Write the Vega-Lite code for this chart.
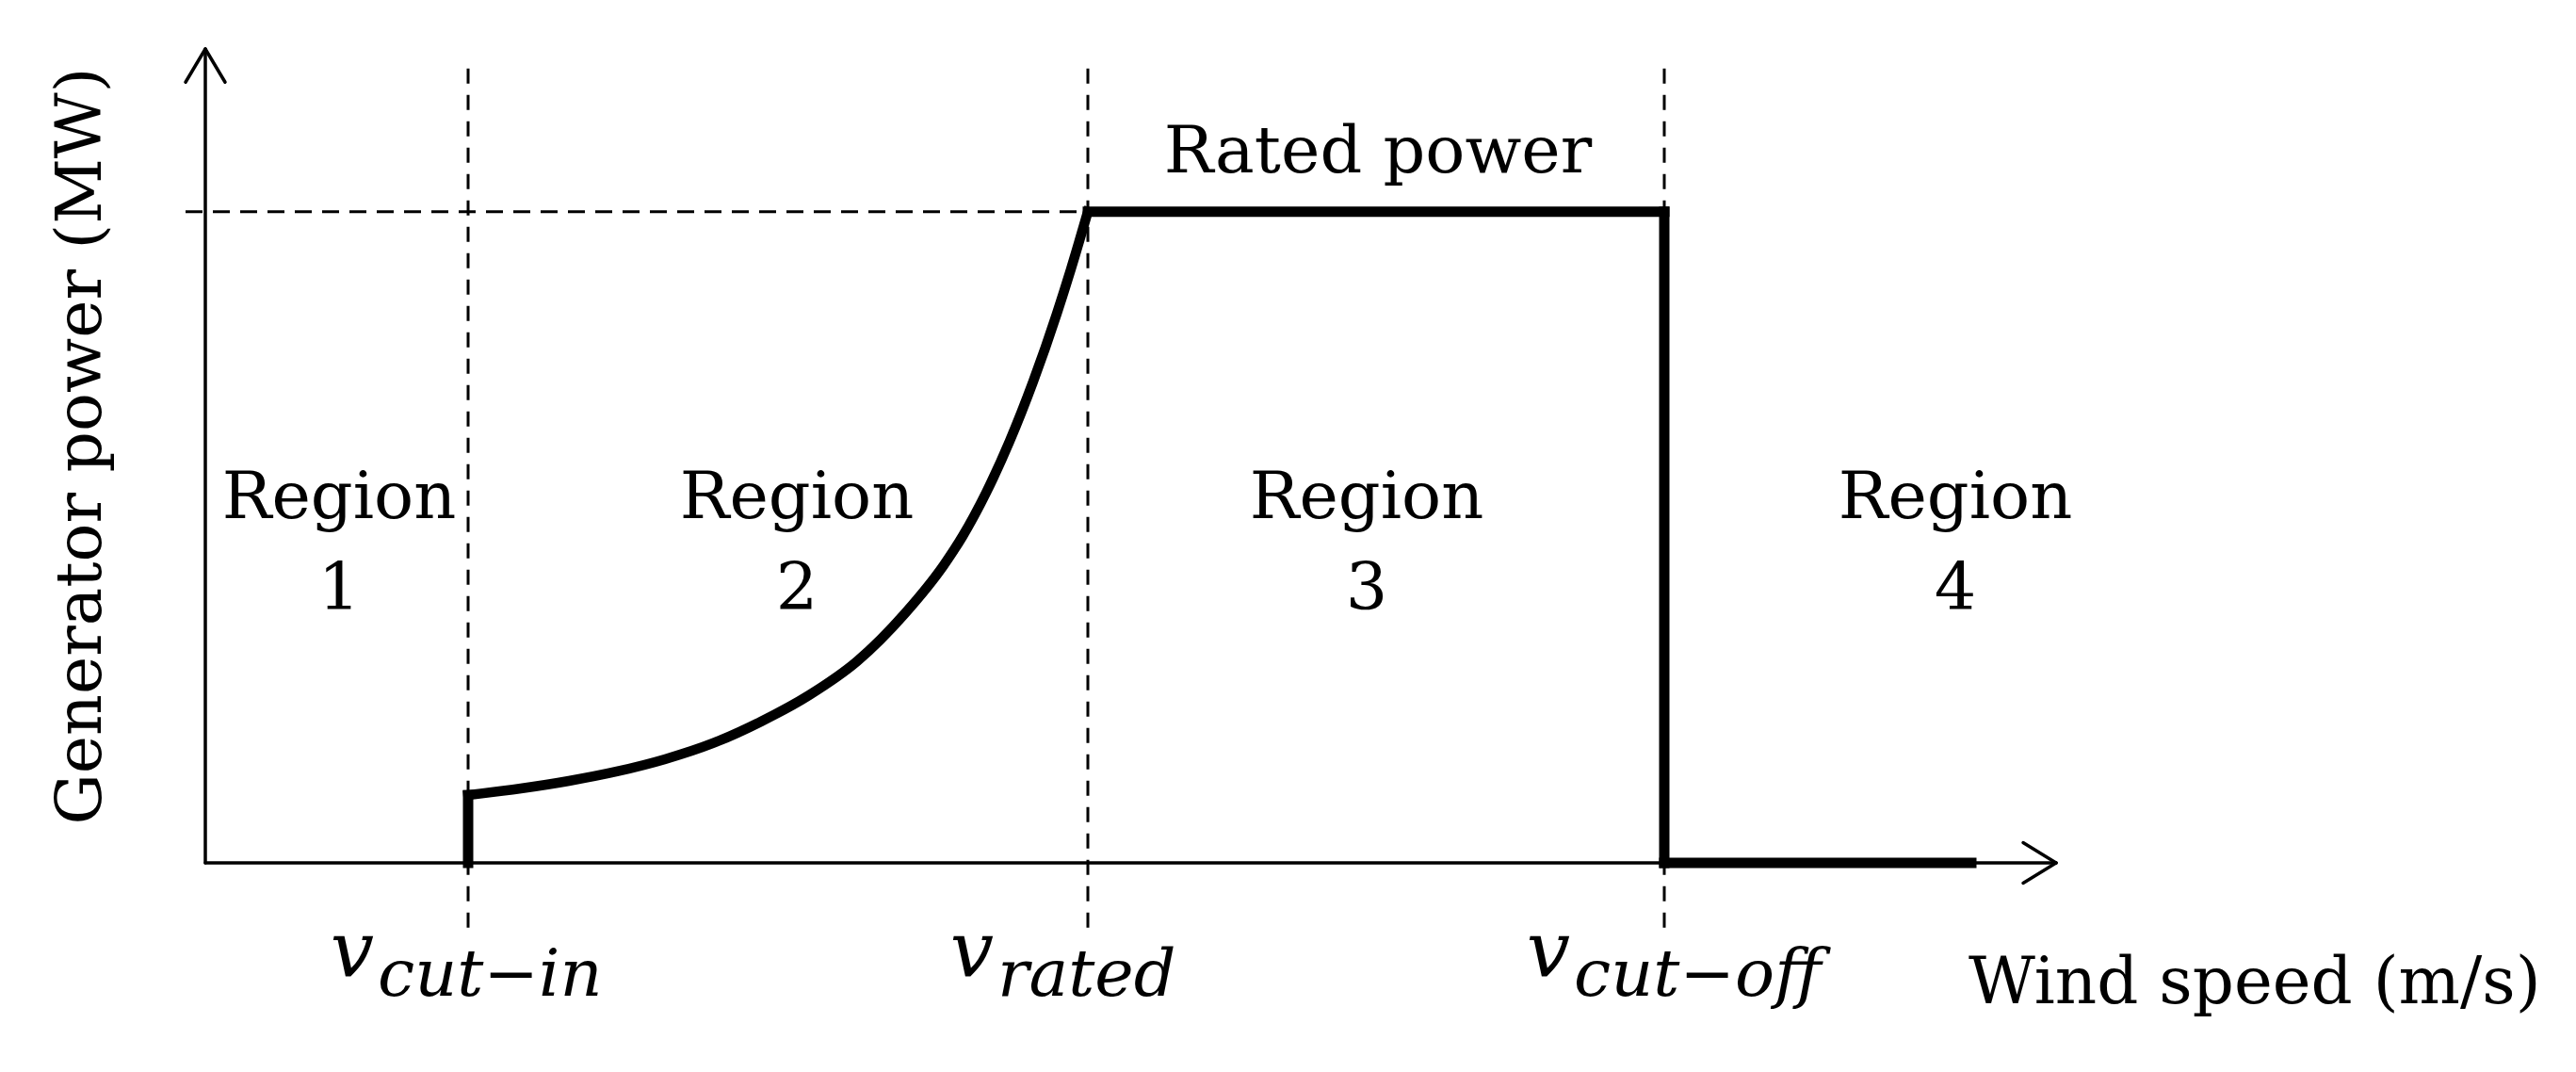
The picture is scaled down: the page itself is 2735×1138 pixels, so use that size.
{
  "$schema": "https://vega.github.io/schema/vega-lite/v6.json",
  "width": 1965,
  "height": 864,
  "autosize": {"type": "none"},
  "padding": {"left": 218, "top": 52, "right": 552, "bottom": 222},
  "background": "white",
  "config": {"view": {"stroke": null}, "font": "DejaVu Serif", "text": {"font": "DejaVu Serif", "color": "black"}},
  "datasets": {
    "curve": [
      {"speed": 2.79, "power": 0.1042},
      {"speed": 3.35, "power": 0.1143},
      {"speed": 3.86, "power": 0.1259},
      {"speed": 4.37, "power": 0.1404},
      {"speed": 4.88, "power": 0.1592},
      {"speed": 5.39, "power": 0.1838},
      {"speed": 5.90, "power": 0.2171},
      {"speed": 6.41, "power": 0.2576},
      {"speed": 6.92, "power": 0.3097},
      {"speed": 7.43, "power": 0.3835},
      {"speed": 7.84, "power": 0.4573},
      {"speed": 8.04, "power": 0.5017},
      {"speed": 8.29, "power": 0.5686},
      {"speed": 8.54, "power": 0.6478},
      {"speed": 8.79, "power": 0.7394},
      {"speed": 9.04, "power": 0.8434},
      {"speed": 9.19, "power": 0.9119},
      {"speed": 9.37, "power": 1.0}
    ],
    "steps": [
      {"x": 2.79, "y": 0, "x2": 2.79, "y2": 0.104},
      {"x": 9.37, "y": 1, "x2": 15.49, "y2": 1},
      {"x": 15.49, "y": 1, "x2": 15.49, "y2": 0},
      {"x": 15.49, "y": 0, "x2": 18.75, "y2": 0}
    ],
    "axes": [
      {"x": 0, "y": 0, "x2": 0, "y2": 1.25},
      {"x": 0, "y": 0, "x2": 19.65, "y2": 0},
      {"x": -0.21, "y": 1.199, "x2": 0, "y2": 1.25},
      {"x": 0.21, "y": 1.199, "x2": 0, "y2": 1.25},
      {"x": 19.3, "y": 0.031, "x2": 19.65, "y2": 0},
      {"x": 19.3, "y": -0.031, "x2": 19.65, "y2": 0}
    ],
    "thresholds": [
      {"x": 2.79, "sub": "cut−in"},
      {"x": 9.37, "sub": "rated"},
      {"x": 15.49, "sub": "cut−off"}
    ],
    "ratedline": [{"x": -0.21, "x2": 9.37, "y": 1}],
    "regions": [
      {"x": 1.42, "y": 0.53, "label": "Region\n1"},
      {"x": 6.28, "y": 0.53, "label": "Region\n2"},
      {"x": 12.33, "y": 0.53, "label": "Region\n3"},
      {"x": 18.58, "y": 0.53, "label": "Region\n4"}
    ],
    "rated": [{"x": 12.45, "y": 1.061, "label": "Rated power"}],
    "xtitle": [{"x": 18.72, "y": -0.216, "label": "Wind speed (m/s)"}],
    "ytitle": [{"x": -1.11, "y": 0.64, "label": "Generator power (MW)"}]
  },
  "layer": [
    {
      "data": {"name": "thresholds"},
      "mark": {"type": "rule", "stroke": "black", "strokeWidth": 3, "strokeDash": [16, 12]},
      "encoding": {
        "x": {"field": "x", "type": "quantitative", "scale": {"domain": [0, 19.65], "nice": false, "zero": false}, "axis": null},
        "y": {"datum": 1.22, "type": "quantitative", "scale": {"domain": [0, 1.25], "nice": false, "zero": false}, "axis": null},
        "y2": {"datum": -0.107}
      }
    },
    {
      "data": {"name": "ratedline"},
      "mark": {"type": "rule", "stroke": "black", "strokeWidth": 3, "strokeDash": [18, 11]},
      "encoding": {
        "x": {"field": "x", "type": "quantitative", "scale": {"domain": [0, 19.65], "nice": false, "zero": false}, "axis": null},
        "x2": {"field": "x2"},
        "y": {"field": "y", "type": "quantitative", "scale": {"domain": [0, 1.25], "nice": false, "zero": false}, "axis": null}
      }
    },
    {
      "data": {"name": "axes"},
      "mark": {"type": "rule", "stroke": "black", "strokeWidth": 3.5, "strokeCap": "round"},
      "encoding": {
        "x": {"field": "x", "type": "quantitative", "scale": {"domain": [0, 19.65], "nice": false, "zero": false}, "axis": null},
        "x2": {"field": "x2"},
        "y": {"field": "y", "type": "quantitative", "scale": {"domain": [0, 1.25], "nice": false, "zero": false}, "axis": null},
        "y2": {"field": "y2"}
      }
    },
    {
      "data": {"name": "steps"},
      "mark": {"type": "rule", "stroke": "black", "strokeWidth": 11, "strokeCap": "square"},
      "encoding": {
        "x": {"field": "x", "type": "quantitative", "scale": {"domain": [0, 19.65], "nice": false, "zero": false}, "axis": null},
        "x2": {"field": "x2"},
        "y": {"field": "y", "type": "quantitative", "scale": {"domain": [0, 1.25], "nice": false, "zero": false}, "axis": null},
        "y2": {"field": "y2"}
      }
    },
    {
      "data": {"name": "curve"},
      "mark": {"type": "line", "stroke": "black", "strokeWidth": 10.5, "interpolate": "monotone", "strokeCap": "square"},
      "encoding": {
        "x": {"field": "speed", "type": "quantitative", "scale": {"domain": [0, 19.65], "nice": false, "zero": false}, "axis": null},
        "y": {"field": "power", "type": "quantitative", "scale": {"domain": [0, 1.25], "nice": false, "zero": false}, "axis": null}
      }
    },
    {
      "data": {"name": "regions"},
      "mark": {"type": "text", "fontSize": 70, "align": "center", "baseline": "alphabetic", "lineBreak": "\n", "lineHeight": 97, "font": "DejaVu Serif"},
      "encoding": {
        "x": {"field": "x", "type": "quantitative", "scale": {"domain": [0, 19.65], "nice": false, "zero": false}, "axis": null},
        "y": {"field": "y", "type": "quantitative", "scale": {"domain": [0, 1.25], "nice": false, "zero": false}, "axis": null},
        "text": {"field": "label", "type": "nominal"}
      }
    },
    {
      "data": {"name": "rated"},
      "mark": {"type": "text", "fontSize": 70, "align": "center", "baseline": "alphabetic", "font": "DejaVu Serif"},
      "encoding": {
        "x": {"field": "x", "type": "quantitative", "scale": {"domain": [0, 19.65], "nice": false, "zero": false}, "axis": null},
        "y": {"field": "y", "type": "quantitative", "scale": {"domain": [0, 1.25], "nice": false, "zero": false}, "axis": null},
        "text": {"field": "label", "type": "nominal"}
      }
    },
    {
      "data": {"name": "xtitle"},
      "mark": {"type": "text", "fontSize": 69, "align": "left", "baseline": "alphabetic", "font": "DejaVu Serif"},
      "encoding": {
        "x": {"field": "x", "type": "quantitative", "scale": {"domain": [0, 19.65], "nice": false, "zero": false}, "axis": null},
        "y": {"field": "y", "type": "quantitative", "scale": {"domain": [0, 1.25], "nice": false, "zero": false}, "axis": null},
        "text": {"field": "label", "type": "nominal"}
      }
    },
    {
      "data": {"name": "ytitle"},
      "mark": {"type": "text", "fontSize": 68, "align": "center", "baseline": "alphabetic", "angle": 270, "font": "DejaVu Serif"},
      "encoding": {
        "x": {"field": "x", "type": "quantitative", "scale": {"domain": [0, 19.65], "nice": false, "zero": false}, "axis": null},
        "y": {"field": "y", "type": "quantitative", "scale": {"domain": [0, 1.25], "nice": false, "zero": false}, "axis": null},
        "text": {"field": "label", "type": "nominal"}
      }
    },
    {
      "data": {"name": "thresholds"},
      "mark": {"type": "text", "fontSize": 82, "fontStyle": "italic", "align": "right", "baseline": "alphabetic", "dx": -100, "dy": 121, "font": "DejaVu Serif"},
      "encoding": {
        "x": {"field": "x", "type": "quantitative", "scale": {"domain": [0, 19.65], "nice": false, "zero": false}, "axis": null},
        "y": {"datum": 0, "type": "quantitative", "scale": {"domain": [0, 1.25], "nice": false, "zero": false}, "axis": null},
        "text": {"value": "v"}
      }
    },
    {
      "data": {"name": "thresholds"},
      "mark": {"type": "text", "fontSize": 70, "fontStyle": "italic", "align": "left", "baseline": "alphabetic", "dx": -96, "dy": 141, "font": "DejaVu Serif"},
      "encoding": {
        "x": {"field": "x", "type": "quantitative", "scale": {"domain": [0, 19.65], "nice": false, "zero": false}, "axis": null},
        "y": {"datum": 0, "type": "quantitative", "scale": {"domain": [0, 1.25], "nice": false, "zero": false}, "axis": null},
        "text": {"field": "sub", "type": "nominal"}
      }
    }
  ]
}
